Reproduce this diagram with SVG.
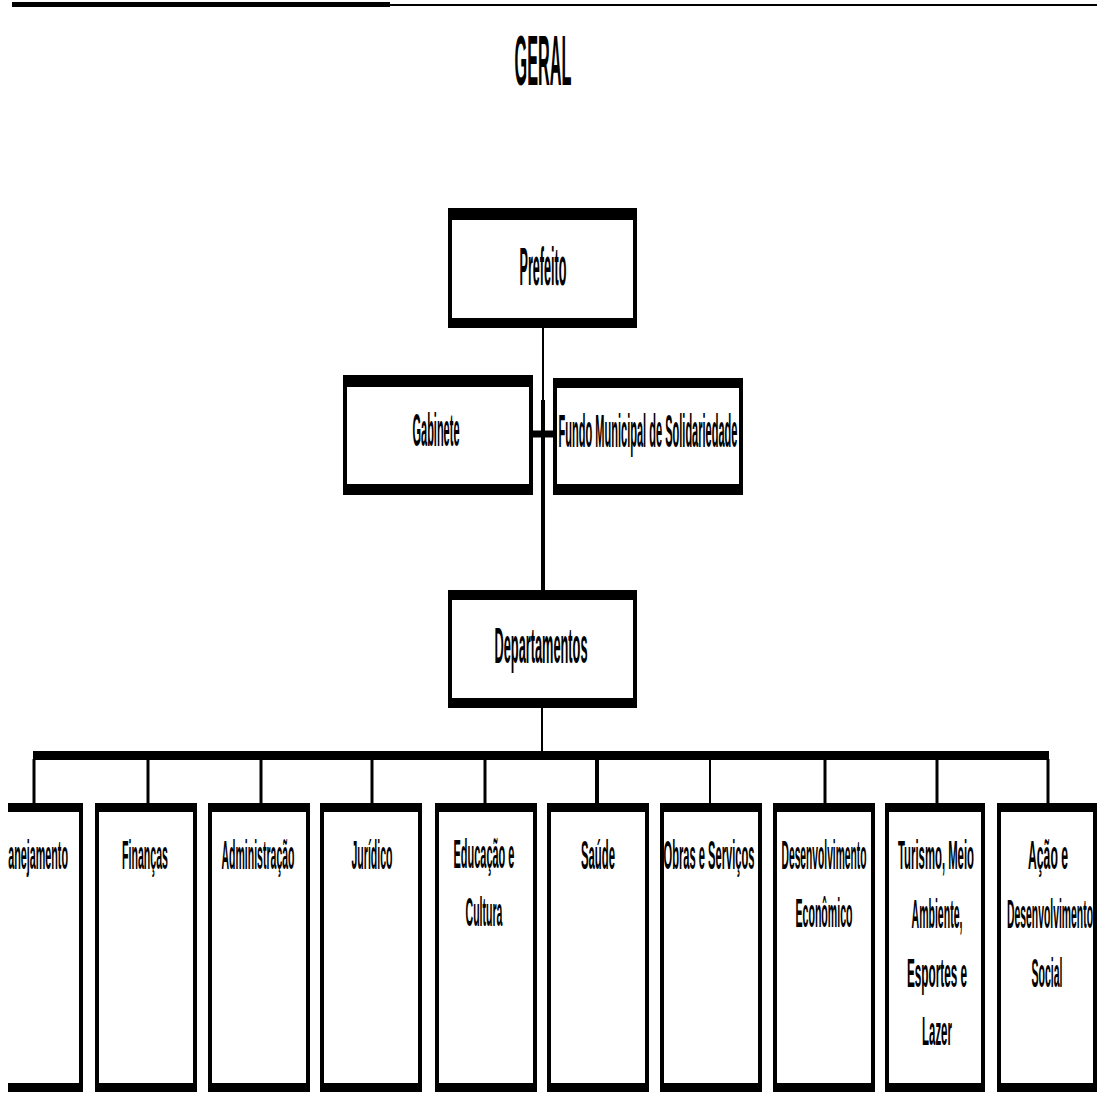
<svg xmlns="http://www.w3.org/2000/svg" width="1097" height="1095" viewBox="0 0 1097 1095">
<style>
.box{fill:#fff;stroke:#000;stroke-width:4}
.bar{fill:#000}
.t{font-family:"Liberation Sans",Arial,sans-serif;font-weight:bold;fill:#000;text-anchor:middle}
.s{font-size:40px}
.c{stroke:#000;fill:none}
</style>
<defs>
<clipPath id="clipL"><rect x="8" y="790" width="90" height="305"/></clipPath>
</defs>
<rect width="1097" height="1095" fill="#fff"/>
<g id="header">
<rect x="12" y="2" width="378" height="5" fill="#000"/>
<rect x="390" y="4" width="707" height="2" fill="#000"/>
<text class="t" transform="translate(543 85) scale(0.2294 1)" font-size="71" textLength="248" lengthAdjust="spacingAndGlyphs">GERAL</text>
</g>
<g id="connectors">
<line class="c" x1="543" y1="328" x2="543" y2="400" stroke-width="2"/>
<line class="c" x1="543" y1="400" x2="543" y2="590" stroke-width="4"/>
<line class="c" x1="532" y1="434" x2="553" y2="434" stroke-width="7"/>
<line class="c" x1="542" y1="708" x2="542" y2="752" stroke-width="2"/>
<line class="c" x1="33" y1="755.5" x2="1049" y2="755.5" stroke-width="9"/>
<line class="c" x1="34" y1="759" x2="34" y2="803" stroke-width="3"/>
<line class="c" x1="148" y1="759" x2="148" y2="803" stroke-width="3"/>
<line class="c" x1="261" y1="759" x2="261" y2="803" stroke-width="3"/>
<line class="c" x1="372" y1="759" x2="372" y2="803" stroke-width="3"/>
<line class="c" x1="485" y1="759" x2="485" y2="803" stroke-width="3"/>
<line class="c" x1="597" y1="759" x2="597" y2="803" stroke-width="4"/>
<line class="c" x1="710" y1="759" x2="710" y2="803" stroke-width="2"/>
<line class="c" x1="825" y1="759" x2="825" y2="803" stroke-width="3"/>
<line class="c" x1="937" y1="759" x2="937" y2="803" stroke-width="3"/>
<line class="c" x1="1048" y1="759" x2="1048" y2="803" stroke-width="3"/>
</g>
<g id="prefeito">
<rect class="box" x="450" y="210" width="185" height="116"/>
<rect class="bar" x="448" y="208" width="189" height="12"/>
<rect class="bar" x="448" y="318" width="189" height="10"/>
<text class="t" transform="translate(543 285) scale(0.2382 1)" font-size="53" textLength="197" lengthAdjust="spacingAndGlyphs">Prefeito</text>
</g>
<g id="gabinete">
<rect class="box" x="345" y="377" width="186" height="116"/>
<rect class="bar" x="343" y="375" width="190" height="12"/>
<rect class="bar" x="343" y="484" width="190" height="11"/>
<text class="t" transform="translate(436 446) scale(0.2337 1)" font-size="47" textLength="201" lengthAdjust="spacingAndGlyphs">Gabinete</text>
</g>
<g id="fundo">
<rect class="box" x="555" y="380" width="186" height="113"/>
<rect class="bar" x="553" y="378" width="190" height="10"/>
<rect class="bar" x="553" y="484" width="190" height="11"/>
<text class="t" transform="translate(648 447) scale(0.2349 1)" font-size="47" textLength="762" lengthAdjust="spacingAndGlyphs">Fundo Municipal de Solidariedade</text>
</g>
<g id="departamentos">
<rect class="box" x="450" y="592" width="185" height="114"/>
<rect class="bar" x="448" y="590" width="189" height="10"/>
<rect class="bar" x="448" y="698" width="189" height="10"/>
<text class="t" transform="translate(541 663) scale(0.2555 1)" font-size="50" textLength="364" lengthAdjust="spacingAndGlyphs">Departamentos</text>
</g>
<g id="planejamento">
<g clip-path="url(#clipL)">
<rect class="box" x="-20" y="805" width="101" height="285"/>
<rect class="bar" x="-22" y="803" width="105" height="9"/>
<rect class="bar" x="-22" y="1083" width="105" height="9"/>
<text class="t s" transform="translate(33 869) scale(0.2696 1)" textLength="260" lengthAdjust="spacingAndGlyphs">Planejamento</text>
</g>
</g>
<g id="financas">
<rect class="box" x="97" y="805" width="98" height="285"/>
<rect class="bar" x="95" y="803" width="102" height="9"/>
<rect class="bar" x="95" y="1083" width="102" height="9"/>
<text class="t s" transform="translate(145 869) scale(0.2653 1)" textLength="173" lengthAdjust="spacingAndGlyphs">Finanças</text>
</g>
<g id="administracao">
<rect class="box" x="210" y="805" width="98" height="285"/>
<rect class="bar" x="208" y="803" width="102" height="9"/>
<rect class="bar" x="208" y="1083" width="102" height="9"/>
<text class="t s" transform="translate(258 869) scale(0.2628 1)" textLength="278" lengthAdjust="spacingAndGlyphs">Administração</text>
</g>
<g id="juridico">
<rect class="box" x="322" y="805" width="98" height="285"/>
<rect class="bar" x="320" y="803" width="102" height="9"/>
<rect class="bar" x="320" y="1083" width="102" height="9"/>
<text class="t s" transform="translate(372 869) scale(0.2635 1)" textLength="156" lengthAdjust="spacingAndGlyphs">Jurídico</text>
</g>
<g id="educacao">
<rect class="box" x="437" y="805" width="98" height="285"/>
<rect class="bar" x="435" y="803" width="102" height="9"/>
<rect class="bar" x="435" y="1083" width="102" height="9"/>
<text class="t s" transform="translate(484 868) scale(0.2744 1)" textLength="222" lengthAdjust="spacingAndGlyphs">Educação e</text>
<text class="t s" transform="translate(484 926) scale(0.264 1)" textLength="140" lengthAdjust="spacingAndGlyphs">Cultura</text>
</g>
<g id="saude">
<rect class="box" x="549" y="805" width="98" height="285"/>
<rect class="bar" x="547" y="803" width="102" height="9"/>
<rect class="bar" x="547" y="1083" width="102" height="9"/>
<text class="t s" transform="translate(598 869) scale(0.283 1)" textLength="120" lengthAdjust="spacingAndGlyphs">Saúde</text>
</g>
<g id="obras">
<rect class="box" x="662" y="805" width="98" height="285"/>
<rect class="bar" x="660" y="803" width="102" height="9"/>
<rect class="bar" x="660" y="1083" width="102" height="9"/>
<text class="t s" transform="translate(709 869) scale(0.2784 1)" textLength="327" lengthAdjust="spacingAndGlyphs">Obras e Serviços</text>
</g>
<g id="desenvolvimento-economico">
<rect class="box" x="775" y="805" width="98" height="285"/>
<rect class="bar" x="773" y="803" width="102" height="9"/>
<rect class="bar" x="773" y="1083" width="102" height="9"/>
<text class="t s" transform="translate(824 869) scale(0.2566 1)" textLength="331" lengthAdjust="spacingAndGlyphs">Desenvolvimento</text>
<text class="t s" transform="translate(824 927) scale(0.2644 1)" textLength="216" lengthAdjust="spacingAndGlyphs">Econômico</text>
</g>
<g id="turismo">
<rect class="box" x="887" y="805" width="96" height="285"/>
<rect class="bar" x="885" y="803" width="100" height="9"/>
<rect class="bar" x="885" y="1083" width="100" height="9"/>
<text class="t s" transform="translate(936 869) scale(0.2803 1)" textLength="271" lengthAdjust="spacingAndGlyphs">Turismo, Meio</text>
<text class="t s" transform="translate(937 928) scale(0.2637 1)" textLength="193" lengthAdjust="spacingAndGlyphs">Ambiente,</text>
<text class="t s" transform="translate(937 987) scale(0.2934 1)" textLength="205" lengthAdjust="spacingAndGlyphs">Esportes e</text>
<text class="t s" transform="translate(937 1045) scale(0.2871 1)" textLength="104" lengthAdjust="spacingAndGlyphs">Lazer</text>
</g>
<g id="acao-social">
<rect class="box" x="999" y="805" width="96" height="285"/>
<rect class="bar" x="997" y="803" width="100" height="9"/>
<rect class="bar" x="997" y="1083" width="100" height="9"/>
<text class="t s" transform="translate(1048 869) scale(0.305 1)" textLength="131" lengthAdjust="spacingAndGlyphs">Ação e</text>
<text class="t s" transform="translate(1050 928) scale(0.2597 1)" textLength="331" lengthAdjust="spacingAndGlyphs">Desenvolvimento</text>
<text class="t s" transform="translate(1047 987) scale(0.263 1)" textLength="118" lengthAdjust="spacingAndGlyphs">Social</text>
</g>
</svg>
